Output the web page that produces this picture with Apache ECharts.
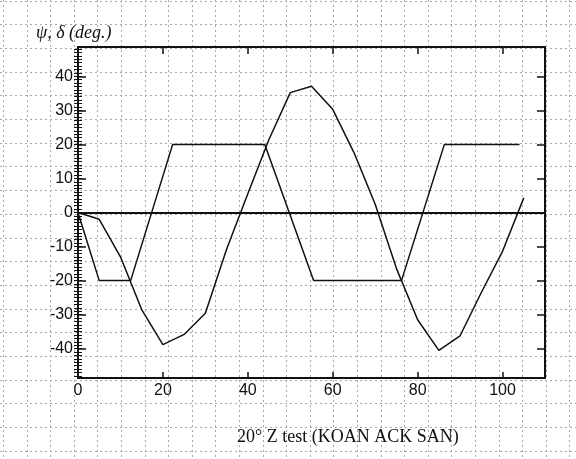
<!DOCTYPE html>
<html>
<head>
<meta charset="utf-8">
<script src="https://cdn.jsdelivr.net/npm/echarts@6/dist/echarts.min.js"></script>
<style>
html,body{margin:0;padding:0;background:#fff;}
#chart{width:576px;height:459px;}
</style>
</head>
<body>
<div id="chart"></div>
<script>
// ---- data ----
const xPsi = [0,5,10,15,20,25,30,35,40,45,50,55,60,65,70,75,80,85,90,95,100,105];
const psi  = [0,-2,-13,-28.5,-38.8,-35.8,-29.6,-10.8,5.5,21.5,35.2,37.1,30.3,17.6,2.4,-16.4,-31.5,-40.5,-36.2,-23.5,-11.4,4.3];
const xDelta = [0,5,12.4,22.3,44,55.5,76.2,86.3,104];
const delta  = [0,-20,-20,20,20,-20,-20,20,20];
const xTicks = [0,20,40,60,80,100];
const yLabels = [-40,-30,-20,-10,0,10,20,30,40];
const yMinor = [];
for (let v = -48; v <= 48; v++) yMinor.push(v);

const yTitle = 'ψ, δ (deg.)';
const xTitle = '20° Z test (KOAN ACK SAN)';

// ---- graph-paper background (decoration) ----
const paper = [];
for (let k = 0; k < 25; k++) {
  const x = Math.round(3 + 23.6 * k) + 0.5;
  paper.push({type:'line', z:-10, silent:true,
    shape:{x1:x, y1:0, x2:x, y2:459},
    style:{stroke:'#a8a8a8', lineWidth:1, lineDash:[2,3]}});
}
for (let k = 0; k < 20; k++) {
  const y = Math.round(0.5 + 23.7 * k) + 0.5;
  paper.push({type:'line', z:-10, silent:true,
    shape:{x1:0, y1:y, x2:576, y2:y},
    style:{stroke:'#a8a8a8', lineWidth:1, lineDash:[2,3]}});
}

const chart = echarts.init(document.getElementById('chart'), null, {renderer:'canvas'});
const axisLine = {show:true, onZero:false, lineStyle:{color:'#111', width:2}};
const yMin = -48.6, yMax = 48.6;

chart.setOption({
  animation:false,
  backgroundColor:'#fff',
  graphic: paper,
  title:[
    {text:yTitle, left:31, top:19,
     textStyle:{fontFamily:'Liberation Serif', fontStyle:'italic', fontWeight:'normal', fontSize:18, color:'#111'}},
    {text:xTitle, left:232, top:423,
     textStyle:{fontFamily:'Liberation Serif', fontWeight:'normal', fontSize:18, color:'#111'}}
  ],
  grid:{left:78, right:31, top:47, bottom:81, containLabel:false},
  xAxis:[
    {type:'value', position:'bottom', min:0, max:110,
     axisLine:axisLine,
     axisTick:{show:true, inside:true, length:6, customValues:xTicks, lineStyle:{color:'#111', width:1.5}},
     axisLabel:{show:true, customValues:xTicks, margin:5, fontFamily:'Liberation Sans', fontSize:16, color:'#111'},
     splitLine:{show:false}},
    {type:'value', position:'top', min:0, max:110,
     axisLine:axisLine,
     axisTick:{show:true, inside:true, length:7, customValues:xTicks, lineStyle:{color:'#111', width:1.5}},
     axisLabel:{show:false},
     splitLine:{show:false}}
  ],
  yAxis:[
    {type:'value', position:'left', min:yMin, max:yMax,
     axisLine:axisLine,
     axisTick:{show:true, inside:true, length:8, customValues:yLabels, lineStyle:{color:'#111', width:1.5}},
     axisLabel:{show:true, customValues:yLabels, margin:5, fontFamily:'Liberation Sans', fontSize:16, color:'#111'},
     splitLine:{show:false}},
    {type:'value', position:'left', min:yMin, max:yMax,
     axisLine:{show:false},
     axisTick:{show:true, inside:true, length:4, customValues:yMinor, lineStyle:{color:'#111', width:1}},
     axisLabel:{show:false},
     splitLine:{show:false}},
    {type:'value', position:'right', min:yMin, max:yMax,
     axisLine:axisLine,
     axisTick:{show:true, inside:true, length:8, customValues:yLabels, lineStyle:{color:'#111', width:1.5}},
     axisLabel:{show:false},
     splitLine:{show:false}},
    {type:'value', position:'right', min:yMin, max:yMax,
     axisLine:{show:false},
     axisTick:{show:true, inside:true, length:4, customValues:yMinor, lineStyle:{color:'#111', width:1}},
     axisLabel:{show:false},
     splitLine:{show:false}}
  ],
  series:[
    {name:'δ', type:'line', xAxisIndex:0, yAxisIndex:0,
     data: xDelta.map((x,i)=>[x, delta[i]]),
     symbol:'none', lineStyle:{color:'#111', width:1.5},
     markLine:{silent:true, symbol:'none', label:{show:false},
       lineStyle:{color:'#111', width:1.8, type:'solid'},
       data:[{yAxis:0}]}},
    {name:'ψ', type:'line', xAxisIndex:0, yAxisIndex:0,
     data: xPsi.map((x,i)=>[x, psi[i]]),
     symbol:'none', lineStyle:{color:'#111', width:1.5}}
  ]
});
</script>
</body>
</html>
